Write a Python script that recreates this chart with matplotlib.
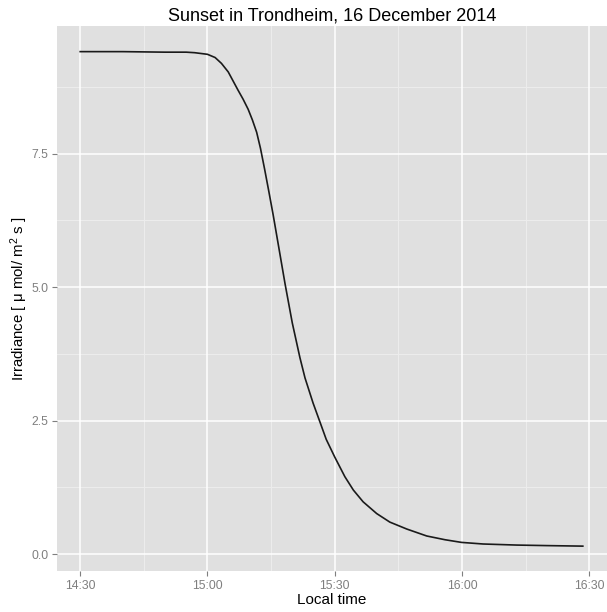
import datetime as dt
import matplotlib
matplotlib.use("Agg")
import matplotlib.pyplot as plt
import matplotlib.dates as mdates

plt.rcParams['font.family'] = ['Liberation Sans', 'DejaVu Sans']
plt.rcParams['mathtext.default'] = 'regular'

# minutes after 14:30 local time, and irradiance readings
minutes = [0, 10, 20, 25, 27, 30, 31.8, 33.3, 34.9, 37.2, 38.4, 39.6, 40.6,
           41.6, 42.5, 43.5, 44.5, 45.5, 47, 48.3, 50, 51.8, 53, 54.9, 56.5,
           58, 60, 62.4, 64.4, 66.7, 69.9, 73, 77, 81.7, 86, 89.9, 95, 102.9,
           110, 118.5]
irradiance = [9.41, 9.41, 9.40, 9.40, 9.39, 9.36, 9.30, 9.19, 9.03, 8.69, 8.52,
              8.33, 8.13, 7.90, 7.60, 7.20, 6.78, 6.35, 5.66, 5.06, 4.33, 3.68,
              3.30, 2.83, 2.48, 2.15, 1.82, 1.45, 1.20, 0.98, 0.76, 0.60, 0.47,
              0.34, 0.27, 0.22, 0.19, 0.17, 0.16, 0.15]
y_ticks = [0.0, 2.5, 5.0, 7.5]
y_minor = [1.25, 3.75, 6.25, 8.75]

start = dt.datetime(2014, 12, 16, 14, 30)
times = [start + dt.timedelta(minutes=m) for m in minutes]
x_ticks = [start + dt.timedelta(minutes=m) for m in (0, 30, 60, 90, 120)]
x_minor = [start + dt.timedelta(minutes=m) for m in (15, 45, 75, 105)]

fig = plt.figure(figsize=(6.07, 6.12), dpi=100)
W, H = 607, 612
ax = fig.add_axes([57.3 / W, (H - 570.7) / H, (607 - 57.3) / W, (570.7 - 26) / H])
ax.set_facecolor('#E0E0E0')
for s in ax.spines.values():
    s.set_visible(False)

# grid: faint minor lines under white major lines
for t in x_minor:
    ax.axvline(t, color='#EDEDED', lw=0.7, zorder=0.5)
for v in y_minor:
    ax.axhline(v, color='#EDEDED', lw=0.7, zorder=0.5)
for t in x_ticks:
    ax.axvline(t, color='white', lw=1.1, zorder=0.6)
for v in y_ticks:
    ax.axhline(v, color='white', lw=1.1, zorder=0.6)

ax.plot(times, irradiance, color='#1a1a1a', lw=1.2, zorder=2)

ax.set_xlim(start - dt.timedelta(minutes=5.4), start + dt.timedelta(minutes=124.2))
ax.set_ylim(-0.31, 9.89)
ax.set_xticks(x_ticks)
ax.xaxis.set_major_formatter(mdates.DateFormatter('%H:%M'))
ax.set_yticks(y_ticks)
ax.set_yticklabels([f'{v:.1f}' for v in y_ticks])
ax.tick_params(axis='both', colors='#7F7F7F', labelcolor='#7F7F7F',
               labelsize=8.8, length=3.5, width=0.8, direction='out', pad=3)

ax.set_xlabel('Local time', fontsize=11, color='black', labelpad=1)
ax.set_ylabel('Irradiance [ μ mol/ m$^{2}$ s ]', fontsize=10.8, color='black', labelpad=1)
ax.set_title('Sunset in Trondheim, 16 December 2014', fontsize=13, pad=4)

fig.savefig('out.png', dpi=100)
